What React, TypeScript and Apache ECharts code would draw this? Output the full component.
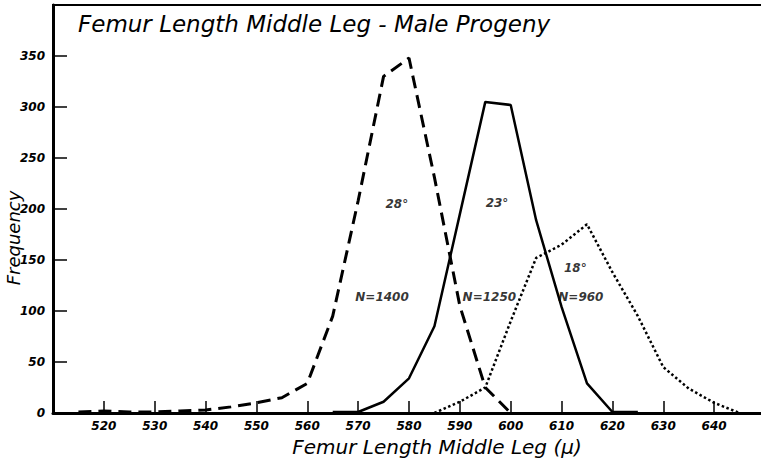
import React, { useEffect, useRef } from "react";
import * as echarts from "echarts";

// Femur length (μ) class marks and frequencies for each rearing temperature
const lengths28 = [515, 520, 525, 530, 535, 540, 545, 550, 555, 560, 565, 570, 575, 580, 585, 590, 595, 600];
const freq28 = [1, 2, 1, 1, 2, 3, 6, 10, 15, 29, 95, 208, 330, 348, 231, 105, 25, 0];

const lengths23 = [565, 570, 575, 580, 585, 590, 595, 600, 605, 610, 615, 620, 625];
const freq23 = [1, 1, 11, 34, 85, 195, 305, 302, 189, 104, 29, 1, 1];

const lengths18 = [585, 590, 595, 600, 605, 610, 615, 620, 625, 630, 635, 640, 645];
const freq18 = [0, 11, 25, 90, 152, 165, 185, 138, 95, 45, 24, 10, 0];

const xTicks = [520, 530, 540, 550, 560, 570, 580, 590, 600, 610, 620, 630, 640];
const yTicks = [0, 50, 100, 150, 200, 250, 300, 350];

// Curve annotations: [length, frequency, text]
const notes: [number, number, string][] = [
  [577.6, 205, "28°"],
  [574.7, 114, "N=1400"],
  [597.3, 206, "23°"],
  [595.8, 114, "N=1250"],
  [612.7, 142, "18°"],
  [613.8, 114, "N=960"],
];

const pairs = (xs: number[], ys: number[]) => xs.map((x, i) => [x, ys[i]]);

const FONT = "DejaVu Sans";

export default function App() {
  const ref = useRef<HTMLDivElement>(null);

  useEffect(() => {
    if (!ref.current) return;
    const chart = echarts.init(ref.current, null, { renderer: "svg" });
    chart.setOption({
      animation: false,
      backgroundColor: "#fff",
      title: {
        text: "Femur Length Middle Leg - Male Progeny",
        left: 73,
        top: 7,
        textStyle: {
          fontFamily: FONT,
          fontStyle: "italic",
          fontWeight: "normal",
          fontSize: 23,
          color: "#000",
        },
      },
      grid: {
        left: 53,
        right: -4,
        top: 5,
        bottom: 47,
        outerBoundsMode: "none",
        show: true,
        borderColor: "#000",
        borderWidth: 2,
        backgroundColor: "transparent",
      },
      xAxis: {
        type: "value",
        min: 510,
        max: 650,
        interval: 10,
        name: "Femur Length Middle Leg (μ)",
        nameLocation: "middle",
        nameGap: 21,
        nameTextStyle: {
          fontFamily: FONT,
          fontStyle: "italic",
          fontSize: 20,
          color: "#000",
          padding: [0, 0, 0, 56],
        },
        splitLine: { show: false },
        axisLine: { lineStyle: { color: "#000", width: 3 } },
        axisTick: {
          inside: true,
          length: 12,
          lineStyle: { color: "#000", width: 1.5 },
        },
        axisLabel: {
          margin: 7,
          fontFamily: FONT,
          fontStyle: "italic",
          fontWeight: "bold",
          fontSize: 12,
          color: "#000",
          formatter: (v: number) => (xTicks.includes(v) ? String(v) : ""),
        },
      },
      yAxis: {
        type: "value",
        min: 0,
        max: 400,
        interval: 50,
        splitLine: { show: false },
        axisLine: { show: true, lineStyle: { color: "#000", width: 3 } },
        axisTick: {
          show: true,
          inside: true,
          length: 14,
          lineStyle: { color: "#000", width: 1.5 },
        },
        axisLabel: {
          margin: 8,
          fontFamily: FONT,
          fontStyle: "italic",
          fontWeight: "bold",
          fontSize: 12,
          color: "#000",
          formatter: (v: number) => (yTicks.includes(v) ? String(v) : ""),
        },
      },
      graphic: [
        {
          type: "text",
          x: 13,
          y: 238,
          rotation: Math.PI / 2,
          style: {
            text: "Frequency",
            fontFamily: FONT,
            fontStyle: "italic",
            fontSize: 18,
            fill: "#000",
            align: "center",
            verticalAlign: "middle",
          },
        },
      ],
      series: [
        {
          name: "28°",
          type: "line",
          data: pairs(lengths28, freq28),
          symbol: "none",
          lineStyle: { color: "#000", width: 3, type: [13, 7] },
        },
        {
          name: "23°",
          type: "line",
          data: pairs(lengths23, freq23),
          symbol: "none",
          lineStyle: { color: "#000", width: 2.5, type: "solid" },
        },
        {
          name: "18°",
          type: "line",
          data: pairs(lengths18, freq18),
          symbol: "none",
          lineStyle: { color: "#000", width: 2.5, type: [2.5, 2.5] },
        },
        {
          name: "notes",
          type: "scatter",
          data: notes,
          symbolSize: 0,
          itemStyle: { color: "rgba(0,0,0,0)" },
          silent: true,
          label: {
            show: true,
            position: "inside",
            formatter: (p: any) => p.data[2],
            fontFamily: FONT,
            fontStyle: "italic",
            fontWeight: "bold",
            fontSize: 12,
            color: "#000",
            textBorderWidth: 0,
          },
        },
      ],
    });
    return () => chart.dispose();
  }, []);

  return (
    <div
      ref={ref}
      style={{ position: "fixed", left: 0, top: 0, width: 761, height: 460 }}
    />
  );
}
